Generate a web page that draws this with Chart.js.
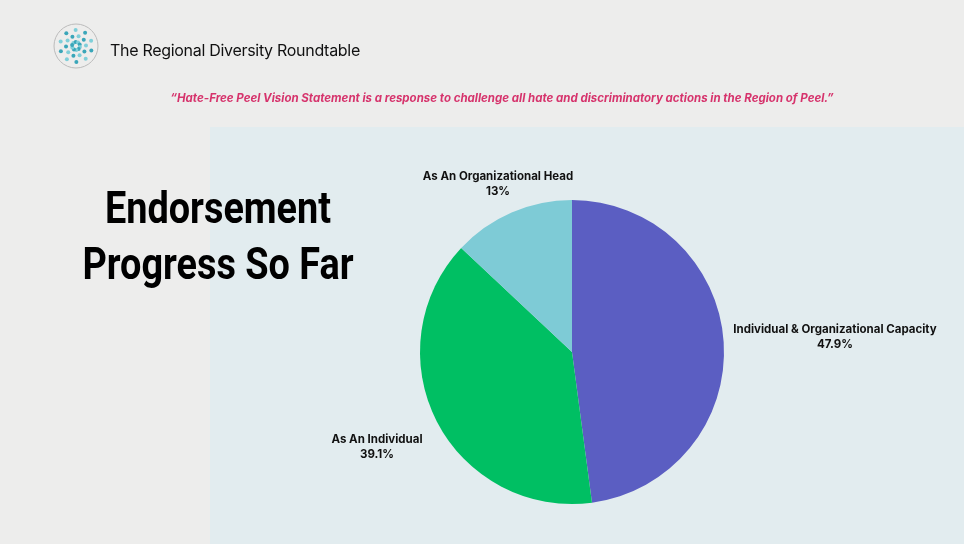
<!DOCTYPE html>
<html><head><meta charset="utf-8">
<script src="https://cdn.jsdelivr.net/npm/chart.js@4"></script>
<style>
html,body{margin:0;padding:0;width:964px;height:544px;overflow:hidden;background:#ededec;font-family:Inter,"Noto Sans",sans-serif}
#wrap{position:absolute;left:0;top:0;width:964px;height:544px}
.t{position:absolute;white-space:nowrap}
</style></head><body>
<div id="wrap"><canvas id="c" width="964" height="544"></canvas></div>
<div class="t" style="left:110px;top:40px;font-size:16px;color:#111;letter-spacing:-0.3px">The Regional Diversity Roundtable</div>
<div class="t" style="left:0;width:964px;text-align:center;top:91px;font-size:11.5px;font-style:italic;font-weight:700;color:#d6336c;padding-left:20px">“Hate-Free Peel Vision Statement is a response to challenge all hate and discriminatory actions in the Region of Peel.”</div>
<div class="t" style="left:18px;width:400px;text-align:center;top:180px;font-size:44px;line-height:56px;font-weight:700;font-family:'Roboto',sans-serif;color:#000;transform:scaleX(0.86)">Endorsement<br>Progress So Far</div>
<script>
const categories=["Individual & Organizational Capacity","As An Individual","As An Organizational Head"];
const values=[47.9,39.1,13];
const valueLabels=["47.9%","39.1%","13%"];
const colors=["#5b5ec2","#00bf63","#7ecbd6"];
const bg={id:'bg',beforeDraw(ch){const x=ch.ctx;x.save();x.fillStyle='#e2ecef';x.fillRect(210,127,754,417);
const cx=76,cy=46;for(let r=4;r<=16;r+=6){for(let i=0;i<10;i++){const a=i*Math.PI/5+r;x.fillStyle=i%2?'#3aa6b9':'#7fcfd9';x.beginPath();x.arc(cx+r*Math.cos(a),cy+r*Math.sin(a),2,0,7);x.fill();}}
x.strokeStyle='#bbb';x.beginPath();x.arc(cx,cy,22,0,7);x.stroke();x.restore();}};
const lbl={id:'lbl',afterDraw(ch){const x=ch.ctx;const pos=[[835,333],[377,443],[498,180]];x.save();x.fillStyle='#111';x.font='bold 11.5px Inter,"Noto Sans",sans-serif';x.textAlign='center';
categories.forEach((c,i)=>{x.fillText(c,pos[i][0],pos[i][1]);x.fillText(valueLabels[i],pos[i][0],pos[i][1]+15);});x.restore();}};
new Chart(document.getElementById('c'),{type:'pie',data:{labels:categories,datasets:[{data:values,backgroundColor:colors,borderWidth:0}]},
options:{responsive:false,animation:false,layout:{padding:{left:420,right:240,top:200,bottom:40}},plugins:{legend:{display:false},tooltip:{enabled:false}}},plugins:[bg,lbl]});
</script></body></html>
